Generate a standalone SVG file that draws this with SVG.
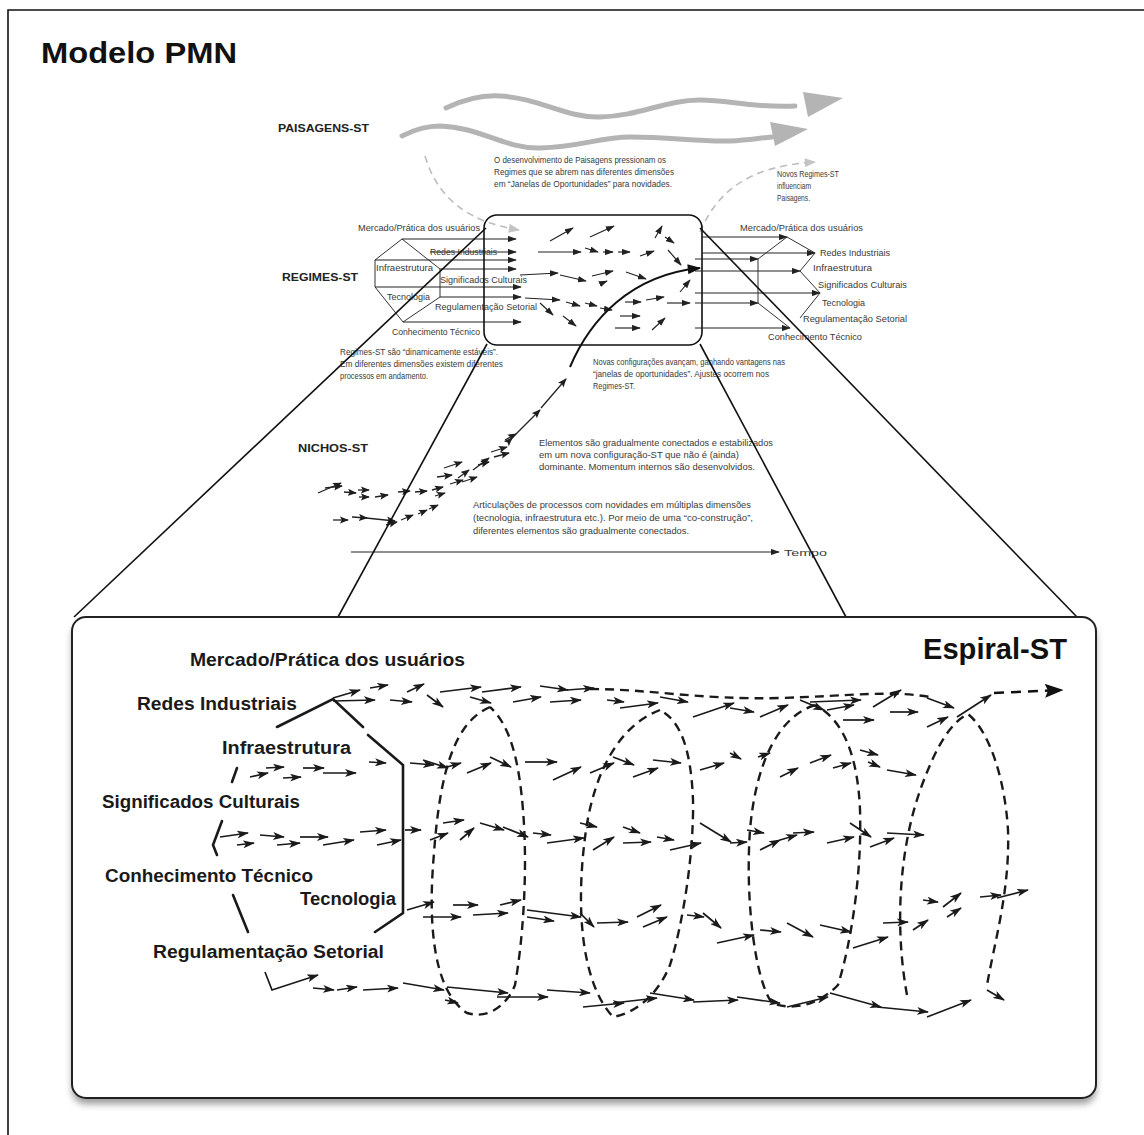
<svg xmlns="http://www.w3.org/2000/svg" width="1144" height="1135" viewBox="0 0 1144 1135">
  <defs>
    <style>
      .frame { stroke: #111; stroke-width: 1.6; fill: none; }
      .title { font-family: "Liberation Sans", Arial, sans-serif; font-weight: bold; fill: #111; }
      .lvl { font-family: "Liberation Sans", Arial, sans-serif; font-weight: bold; font-size: 11.5px; fill: #222; }
      .sm { font-family: "Liberation Sans", Arial, sans-serif; font-size: 9px; fill: #3a3a3a; }
      .nt { font-family: "Liberation Sans", Arial, sans-serif; font-size: 9.5px; fill: #3a3a3a; }
      .lbl { font-family: "Liberation Sans", Arial, sans-serif; font-weight: bold; font-size: 18px; fill: #1a1a1a; }
      .ln { stroke: #333; stroke-width: 1; fill: none; }
      .t { stroke: #222; stroke-width: 1.15; fill: none; marker-end: url(#hs); }
      .n { stroke: #222; stroke-width: 1.3; fill: none; marker-end: url(#hn); }
      .a { stroke: #1a1a1a; stroke-width: 1.7; fill: none; marker-end: url(#h); }
      .d { stroke: #1a1a1a; stroke-width: 2.4; fill: none; stroke-dasharray: 9 6; }
      .hex { stroke: #1a1a1a; stroke-width: 2.6; fill: none; stroke-linecap: round; }
      .proj { stroke: #111; stroke-width: 1.6; fill: none; }
      .wave { stroke: #b4b4b4; stroke-width: 5; fill: none; stroke-linecap: round; }
      .gd { stroke: #bdbdbd; stroke-width: 1.6; fill: none; stroke-dasharray: 7 5; marker-end: url(#hg); }
    </style>
    <marker id="h" viewBox="0 0 12 8" refX="11" refY="4" markerWidth="12" markerHeight="8" markerUnits="userSpaceOnUse" orient="auto">
      <path d="M0,0 L12,4 L0,8 L3,4 z" fill="#1a1a1a"/>
    </marker>
    <marker id="hs" viewBox="0 0 10 7" refX="9" refY="3.5" markerWidth="9" markerHeight="6.5" markerUnits="userSpaceOnUse" orient="auto">
      <path d="M0,0 L10,3.5 L0,7 z" fill="#222"/>
    </marker>
    <marker id="hn" viewBox="0 0 10 8" refX="9" refY="4" markerWidth="9" markerHeight="7.5" markerUnits="userSpaceOnUse" orient="auto">
      <path d="M0,0 L10,4 L0,8 L2,4 z" fill="#1e1e1e"/>
    </marker>
    <marker id="hb" viewBox="0 0 12 9" refX="11" refY="4.5" markerWidth="14" markerHeight="10" markerUnits="userSpaceOnUse" orient="auto">
      <path d="M0,0 L12,4.5 L0,9 z" fill="#111"/>
    </marker>
    <marker id="hL" viewBox="0 0 12 9" refX="11" refY="4.5" markerWidth="19" markerHeight="14" markerUnits="userSpaceOnUse" orient="auto">
      <path d="M0,0 L12,4.5 L0,9 L2,4.5 z" fill="#111"/>
    </marker>
    <marker id="hg" viewBox="0 0 10 8" refX="9" refY="4" markerWidth="12" markerHeight="9" markerUnits="userSpaceOnUse" orient="auto">
      <path d="M0,0 L10,4 L0,8 z" fill="#c4c4c4"/>
    </marker>
    <filter id="shadow" x="-5%" y="-5%" width="110%" height="115%">
      <feGaussianBlur stdDeviation="3.5"/>
    </filter>
  </defs>

  <rect width="1144" height="1135" fill="#fff"/>

  <!-- outer frame -->
  <path class="frame" d="M8 1135 V10 H1144"/>

  <!-- title -->
  <g id="title">
    <text class="title" x="41" y="63" font-size="30" textLength="196" lengthAdjust="spacingAndGlyphs">Modelo PMN</text>
  </g>

  <!-- landscape level -->
  <g id="paisagens">
    <text class="lvl" x="278" y="132" textLength="91" lengthAdjust="spacingAndGlyphs">PAISAGENS-ST</text>
    <path class="wave" d="M446 108 C465 99 482 95 500 96 C540 98 565 118 600 117 C640 116 665 100 700 100 C730 100 750 108 795 106"/>
    <polygon points="843,98 808,117 803,92" fill="#b4b4b4"/>
    <path class="wave" d="M402 136 C418 128 428 126 440 126 C480 127 505 149 540 148 C580 147 600 137 630 137 C670 137 700 142 730 141 C748 140 760 138 772 137"/>
    <polygon points="808,129 775,146 770,122" fill="#b4b4b4"/>
    <path class="gd" d="M425 156 C438 200 470 222 519 230"/>
    <path class="gd" d="M700 232 C718 190 750 166 815 162"/>
    <text class="sm" x="494" y="163" textLength="172" lengthAdjust="spacingAndGlyphs">O desenvolvimento  de Paisagens pressionam os</text>
    <text class="sm" x="494" y="175" textLength="180" lengthAdjust="spacingAndGlyphs">Regimes que se abrem nas diferentes dimensões</text>
    <text class="sm" x="494" y="187" textLength="178" lengthAdjust="spacingAndGlyphs">em “Janelas de Oportunidades”  para novidades.</text>
    <text class="sm" x="777" y="177" textLength="62" lengthAdjust="spacingAndGlyphs">Novos Regimes-ST</text>
    <text class="sm" x="777" y="189" textLength="34" lengthAdjust="spacingAndGlyphs">influenciam</text>
    <text class="sm" x="777" y="201" textLength="33" lengthAdjust="spacingAndGlyphs">Paisagens.</text>
  </g>

  <!-- regime level, incoming dimensions -->
  <g id="regimes-esquerda">
    <text class="lvl" x="282" y="281" textLength="76" lengthAdjust="spacingAndGlyphs">REGIMES-ST</text>
    <path class="ln" d="M402 239 L375 260 L375 287 L403 322 L440 297 L440 269 Z"/>
    <line class="t" x1="402" y1="239" x2="516" y2="239"/>
    <line class="t" x1="430" y1="252" x2="516" y2="252"/>
    <line class="t" x1="375" y1="260" x2="516" y2="260"/>
    <line class="t" x1="440" y1="269" x2="516" y2="269"/>
    <line class="t" x1="375" y1="287" x2="521" y2="287"/>
    <line class="t" x1="440" y1="297" x2="521" y2="297"/>
    <line class="t" x1="403" y1="322" x2="521" y2="322"/>
    <text class="sm" x="358" y="231" textLength="122" lengthAdjust="spacingAndGlyphs">Mercado/Prática dos usuários</text>
    <text class="sm" x="430" y="255" textLength="67" lengthAdjust="spacingAndGlyphs">Redes Industriais</text>
    <text class="sm" x="376" y="271" textLength="57" lengthAdjust="spacingAndGlyphs">Infraestrutura</text>
    <text class="sm" x="440" y="283" textLength="87" lengthAdjust="spacingAndGlyphs">Significados Culturais</text>
    <text class="sm" x="387" y="300" textLength="43" lengthAdjust="spacingAndGlyphs">Tecnologia</text>
    <text class="sm" x="435" y="310" textLength="102" lengthAdjust="spacingAndGlyphs">Regulamentação Setorial</text>
    <text class="sm" x="392" y="335" textLength="88" lengthAdjust="spacingAndGlyphs">Conhecimento Técnico</text>
  </g>

  <!-- window of opportunity -->
  <g id="janela">
    <rect x="484" y="215" width="218" height="130" rx="13" fill="none" stroke="#111" stroke-width="1.6"/>
    <line class="t" x1="550" y1="241" x2="573" y2="228"/>
    <line class="t" x1="590" y1="237" x2="614" y2="226"/>
    <line class="t" x1="655" y1="238" x2="662" y2="226"/>
    <line class="t" x1="665" y1="237" x2="674" y2="243"/>
    <line class="t" x1="538" y1="252" x2="581" y2="252"/>
    <line class="t" x1="585" y1="248" x2="598" y2="252"/>
    <line class="t" x1="603" y1="252" x2="613" y2="252"/>
    <line class="t" x1="618" y1="252" x2="630" y2="252"/>
    <line class="t" x1="640" y1="256" x2="654" y2="251"/>
    <line class="t" x1="668" y1="250" x2="681" y2="265"/>
    <line class="t" x1="520" y1="275" x2="558" y2="273"/>
    <line class="t" x1="560" y1="275" x2="586" y2="281"/>
    <line class="t" x1="592" y1="276" x2="613" y2="271"/>
    <line class="t" x1="600" y1="284" x2="607" y2="281"/>
    <line class="t" x1="626" y1="272" x2="646" y2="279"/>
    <line class="t" x1="525" y1="298" x2="560" y2="300"/>
    <line class="t" x1="566" y1="302" x2="580" y2="306"/>
    <line class="t" x1="585" y1="303" x2="597" y2="306"/>
    <line class="t" x1="600" y1="308" x2="612" y2="310"/>
    <line class="t" x1="625" y1="302" x2="641" y2="302"/>
    <line class="t" x1="646" y1="300" x2="664" y2="297"/>
    <line class="t" x1="540" y1="303" x2="553" y2="315"/>
    <line class="t" x1="563" y1="316" x2="576" y2="326"/>
    <line class="t" x1="620" y1="316" x2="640" y2="316"/>
    <line class="t" x1="615" y1="328" x2="640" y2="328"/>
    <line class="t" x1="652" y1="330" x2="665" y2="318"/>
    <line class="t" x1="667" y1="303" x2="690" y2="303"/>
    <line class="t" x1="680" y1="292" x2="690" y2="280"/>
  </g>

  <!-- regime level, new configuration -->
  <g id="regimes-direita">
    <line class="t" x1="702" y1="237" x2="787" y2="237"/>
    <line class="t" x1="702" y1="253" x2="815" y2="253"/>
    <line class="t" x1="695" y1="259" x2="758" y2="259"/>
    <line class="t" x1="695" y1="271" x2="800" y2="271"/>
    <line class="t" x1="695" y1="293" x2="820" y2="293"/>
    <line class="t" x1="695" y1="303" x2="758" y2="303"/>
    <line class="t" x1="695" y1="328" x2="790" y2="328"/>
    <path class="ln" d="M758 259 L787 237 L815 253 L800 271 L820 293 L800 318 M758 259 V303 L790 328"/>
    <text class="sm" x="740" y="231" textLength="123" lengthAdjust="spacingAndGlyphs">Mercado/Prática dos usuários</text>
    <text class="sm" x="820" y="256" textLength="70" lengthAdjust="spacingAndGlyphs">Redes Industriais</text>
    <text class="sm" x="813" y="271" textLength="59" lengthAdjust="spacingAndGlyphs">Infraestrutura</text>
    <text class="sm" x="818" y="288" textLength="89" lengthAdjust="spacingAndGlyphs">Significados Culturais</text>
    <text class="sm" x="822" y="306" textLength="43" lengthAdjust="spacingAndGlyphs">Tecnologia</text>
    <text class="sm" x="803" y="322" textLength="104" lengthAdjust="spacingAndGlyphs">Regulamentação Setorial</text>
    <text class="sm" x="768" y="340" textLength="94" lengthAdjust="spacingAndGlyphs">Conhecimento Técnico</text>
  </g>

  <!-- notes between levels -->
  <g id="notas-regimes">
    <text class="sm" x="340" y="355" textLength="158" lengthAdjust="spacingAndGlyphs">Regimes-ST são “dinamicamente estáveis”.</text>
    <text class="sm" x="340" y="367" textLength="163" lengthAdjust="spacingAndGlyphs">Em diferentes dimensões  existem diferentes</text>
    <text class="sm" x="340" y="379" textLength="88" lengthAdjust="spacingAndGlyphs">processos em andamento.</text>
    <text class="sm" x="593" y="365" textLength="192" lengthAdjust="spacingAndGlyphs">Novas configurações avançam, ganhando vantagens nas</text>
    <text class="sm" x="593" y="377" textLength="176" lengthAdjust="spacingAndGlyphs">“janelas de oportunidades”. Ajustes ocorrem nos</text>
    <text class="sm" x="593" y="389" textLength="42" lengthAdjust="spacingAndGlyphs">Regimes-ST.</text>
  </g>

  <!-- niche level -->
  <g id="nichos">
    <text class="lvl" x="298" y="452" textLength="70" lengthAdjust="spacingAndGlyphs">NICHOS-ST</text>
    <line class="n" x1="318" y1="493" x2="341" y2="483"/>
    <line class="n" x1="325" y1="488" x2="342" y2="486"/>
    <line class="n" x1="344" y1="492" x2="356" y2="493"/>
    <line class="n" x1="358" y1="490" x2="369" y2="490"/>
    <line class="n" x1="359" y1="497" x2="369" y2="497"/>
    <line class="n" x1="375" y1="497" x2="388" y2="495"/>
    <line class="n" x1="398" y1="492" x2="410" y2="491"/>
    <line class="n" x1="415" y1="492" x2="427" y2="491"/>
    <line class="n" x1="432" y1="490" x2="443" y2="487"/>
    <line class="n" x1="435" y1="496" x2="445" y2="493"/>
    <line class="n" x1="437" y1="477" x2="452" y2="475"/>
    <line class="n" x1="444" y1="468" x2="462" y2="462"/>
    <line class="n" x1="450" y1="484" x2="463" y2="480"/>
    <line class="n" x1="458" y1="478" x2="469" y2="470"/>
    <line class="n" x1="462" y1="482" x2="477" y2="477"/>
    <line class="n" x1="473" y1="470" x2="489" y2="458"/>
    <line class="n" x1="478" y1="465" x2="489" y2="462"/>
    <line class="n" x1="491" y1="452" x2="507" y2="447"/>
    <line class="n" x1="494" y1="457" x2="509" y2="453"/>
    <line class="n" x1="505" y1="440" x2="516" y2="434"/>
    <line class="n" x1="333" y1="520" x2="348" y2="520"/>
    <line class="n" x1="352" y1="517" x2="367" y2="518"/>
    <line class="n" x1="366" y1="518" x2="395" y2="521"/>
    <line class="n" x1="386" y1="525" x2="397" y2="522"/>
    <line class="n" x1="401" y1="520" x2="413" y2="515"/>
    <line class="n" x1="418" y1="514" x2="427" y2="510"/>
    <line class="n" x1="429" y1="509" x2="438" y2="505"/>
    <text class="nt" x="539" y="446" textLength="234" lengthAdjust="spacingAndGlyphs">Elementos são gradualmente conectados e estabilizados</text>
    <text class="nt" x="539" y="458" textLength="200" lengthAdjust="spacingAndGlyphs">em um nova configuração-ST que não é (ainda)</text>
    <text class="nt" x="539" y="470" textLength="216" lengthAdjust="spacingAndGlyphs">dominante. Momentum internos são desenvolvidos.</text>
    <text class="nt" x="473" y="508" textLength="278" lengthAdjust="spacingAndGlyphs">Articulações de processos  com novidades em múltiplas dimensões</text>
    <text class="nt" x="473" y="521" textLength="280" lengthAdjust="spacingAndGlyphs">(tecnologia, infraestrutura etc.). Por meio de uma “co-construção”,</text>
    <text class="nt" x="473" y="534" textLength="216" lengthAdjust="spacingAndGlyphs">diferentes elementos são gradualmente conectados.</text>
    <line class="t" x1="351" y1="552" x2="779" y2="552" stroke="#555"/>
    <text class="nt" x="784" y="556" font-size="12.5" textLength="43" lengthAdjust="spacingAndGlyphs">Tempo</text>
  </g>

  <!-- path of the new configuration from niche to regime -->
  <g id="trajetoria">
    <line class="n" x1="512" y1="438" x2="540" y2="410" stroke-width="1.6" marker-start="url(#hn)"/>
    <line class="n" x1="541" y1="408" x2="566" y2="379" stroke-width="1.6"/>
    <path d="M570 367 C590 320 630 275 700 268" fill="none" stroke="#111" stroke-width="2" marker-end="url(#hb)"/>
  </g>

  <!-- zoom lines from the window to the spiral panel -->
  <g id="projecao">
    <line class="proj" x1="486" y1="228" x2="74" y2="617"/>
    <line class="proj" x1="700" y1="228" x2="1077" y2="617"/>
    <line class="proj" x1="487" y1="344" x2="338" y2="617"/>
    <line class="proj" x1="700" y1="344" x2="846" y2="617"/>
  </g>

  <!-- spiral panel -->
  <g id="espiral">
    <rect x="72" y="623" width="1024" height="481" rx="14" fill="#7a7a7a" opacity="0.75" filter="url(#shadow)"/>
    <rect x="72" y="617" width="1024" height="481" rx="14" fill="#fff" stroke="#222" stroke-width="2"/>
    <text class="title" x="923" y="659" font-size="29" textLength="144" lengthAdjust="spacingAndGlyphs">Espiral-ST</text>

    <text class="lbl" x="190" y="666" textLength="275" lengthAdjust="spacingAndGlyphs">Mercado/Prática dos usuários</text>
    <text class="lbl" x="137" y="710" textLength="160" lengthAdjust="spacingAndGlyphs">Redes Industriais</text>
    <text class="lbl" x="222" y="754" textLength="129" lengthAdjust="spacingAndGlyphs">Infraestrutura</text>
    <text class="lbl" x="102" y="808" textLength="198" lengthAdjust="spacingAndGlyphs">Significados Culturais</text>
    <text class="lbl" x="105" y="882" textLength="208" lengthAdjust="spacingAndGlyphs">Conhecimento Técnico</text>
    <text class="lbl" x="300" y="905" textLength="96" lengthAdjust="spacingAndGlyphs">Tecnologia</text>
    <text class="lbl" x="153" y="958" textLength="231" lengthAdjust="spacingAndGlyphs">Regulamentação Setorial</text>

    <!-- dimension outline -->
    <path class="hex" d="M277 727 L333 699 L363 727 M368 735 L403 765 V913 L375 932"/>
    <path class="hex" d="M232 782 L237 768"/>
    <path class="hex" d="M222 821 L213 845 L217 855"/>
    <path class="hex" d="M233 895 L248 932"/>
    <path class="a" d="M265 972 L272 990 L318 975" stroke-width="2.2"/>

    <!-- spiral turns -->
    <path class="d" d="M490 707 C455 722 440 770 434 853 C428 920 432 990 467 1013 C490 1020 508 1003 515 985 C523 940 528 870 523 810 C519 760 510 725 490 707"/>
    <path class="d" d="M660 710 C620 725 595 770 586 830 C576 900 579 980 613 1017 C640 1012 660 990 670 965 C684 920 694 850 693 800 C691 750 681 721 660 710"/>
    <path class="d" d="M815 705 C780 716 756 760 750 830 C745 900 755 980 772 1003 C798 1013 824 1000 838 985 C852 940 862 870 860 810 C858 760 845 720 815 705"/>
    <path class="d" d="M907 995 C895 930 898 850 922 785 C938 742 952 722 968 714 C990 732 1005 780 1008 830 C1010 890 995 940 987 985"/>
    <path class="d" d="M590 689 C650 689 700 700 780 698 C850 696 890 690 930 697"/>
    <line x1="994" y1="693" x2="1062" y2="690" stroke="#111" stroke-width="2.4" stroke-dasharray="10 7" marker-end="url(#hL)"/>

    <!-- market / industrial networks flow -->
    <line class="a" x1="333" y1="698" x2="360" y2="690"/>
    <line class="a" x1="333" y1="701" x2="375" y2="700"/>
    <line class="a" x1="370" y1="688" x2="388" y2="685"/>
    <line class="a" x1="390" y1="700" x2="412" y2="702"/>
    <line class="a" x1="407" y1="692" x2="424" y2="684"/>
    <line class="a" x1="427" y1="695" x2="443" y2="707"/>
    <line class="a" x1="440" y1="692" x2="481" y2="687"/>
    <line class="a" x1="470" y1="697" x2="491" y2="703"/>
    <line class="a" x1="482" y1="692" x2="521" y2="687"/>
    <line class="a" x1="513" y1="702" x2="541" y2="697"/>
    <line class="a" x1="540" y1="686" x2="568" y2="690"/>
    <line class="a" x1="550" y1="702" x2="581" y2="700"/>
    <line class="a" x1="567" y1="690" x2="594" y2="688"/>
    <line class="a" x1="607" y1="700" x2="624" y2="702"/>
    <line class="a" x1="620" y1="708" x2="658" y2="703"/>
    <line class="a" x1="660" y1="697" x2="688" y2="702"/>
    <line class="a" x1="693" y1="717" x2="734" y2="703"/>
    <line class="a" x1="730" y1="708" x2="754" y2="712"/>
    <line class="a" x1="760" y1="717" x2="788" y2="705"/>
    <line class="a" x1="800" y1="700" x2="824" y2="710"/>
    <line class="a" x1="810" y1="702" x2="861" y2="700"/>
    <line class="a" x1="827" y1="710" x2="854" y2="705"/>
    <line class="a" x1="843" y1="720" x2="874" y2="720"/>
    <line class="a" x1="873" y1="707" x2="901" y2="690"/>
    <line class="a" x1="890" y1="712" x2="918" y2="712"/>
    <line class="a" x1="927" y1="698" x2="954" y2="708"/>
    <line class="a" x1="927" y1="727" x2="948" y2="717"/>
    <line class="a" x1="957" y1="717" x2="991" y2="695"/>

    <!-- infrastructure flow -->
    <line class="a" x1="250" y1="777" x2="268" y2="773"/>
    <line class="a" x1="266" y1="768" x2="284" y2="767"/>
    <line class="a" x1="283" y1="778" x2="301" y2="777"/>
    <line class="a" x1="303" y1="768" x2="324" y2="768"/>
    <line class="a" x1="323" y1="773" x2="356" y2="773"/>
    <line class="a" x1="369" y1="762" x2="386" y2="763"/>
    <line class="a" x1="410" y1="763" x2="434" y2="765"/>
    <line class="a" x1="423" y1="760" x2="448" y2="768"/>
    <line class="a" x1="447" y1="767" x2="461" y2="763"/>
    <line class="a" x1="467" y1="773" x2="491" y2="763"/>
    <line class="a" x1="490" y1="757" x2="511" y2="767"/>
    <line class="a" x1="525" y1="762" x2="557" y2="762"/>
    <line class="a" x1="553" y1="780" x2="581" y2="767"/>
    <line class="a" x1="590" y1="773" x2="614" y2="763"/>
    <line class="a" x1="613" y1="757" x2="634" y2="765"/>
    <line class="a" x1="633" y1="777" x2="658" y2="768"/>
    <line class="a" x1="653" y1="760" x2="681" y2="763"/>
    <line class="a" x1="700" y1="770" x2="724" y2="763"/>
    <line class="a" x1="730" y1="753" x2="741" y2="759"/>
    <line class="a" x1="758" y1="757" x2="770" y2="753"/>
    <line class="a" x1="780" y1="777" x2="798" y2="768"/>
    <line class="a" x1="810" y1="763" x2="831" y2="755"/>
    <line class="a" x1="833" y1="768" x2="851" y2="763"/>
    <line class="a" x1="860" y1="750" x2="878" y2="755"/>
    <line class="a" x1="868" y1="762" x2="880" y2="767"/>
    <line class="a" x1="887" y1="770" x2="916" y2="775"/>

    <!-- cultural meanings flow -->
    <line class="a" x1="220" y1="837" x2="248" y2="833"/>
    <line class="a" x1="237" y1="845" x2="254" y2="843"/>
    <line class="a" x1="260" y1="835" x2="284" y2="837"/>
    <line class="a" x1="277" y1="845" x2="300" y2="843"/>
    <line class="a" x1="300" y1="837" x2="328" y2="837"/>
    <line class="a" x1="323" y1="845" x2="354" y2="840"/>
    <line class="a" x1="360" y1="832" x2="386" y2="830"/>
    <line class="a" x1="377" y1="845" x2="401" y2="840"/>
    <line class="a" x1="405" y1="830" x2="421" y2="830"/>
    <line class="a" x1="430" y1="840" x2="448" y2="833"/>
    <line class="a" x1="443" y1="823" x2="464" y2="820"/>
    <line class="a" x1="460" y1="840" x2="474" y2="828"/>
    <line class="a" x1="480" y1="823" x2="504" y2="830"/>
    <line class="a" x1="503" y1="827" x2="528" y2="837"/>
    <line class="a" x1="533" y1="833" x2="551" y2="835"/>
    <line class="a" x1="547" y1="843" x2="584" y2="838"/>
    <line class="a" x1="580" y1="823" x2="597" y2="827"/>
    <line class="a" x1="593" y1="850" x2="614" y2="837"/>
    <line class="a" x1="623" y1="827" x2="640" y2="833"/>
    <line class="a" x1="623" y1="843" x2="651" y2="842"/>
    <line class="a" x1="657" y1="837" x2="674" y2="840"/>
    <line class="a" x1="670" y1="850" x2="701" y2="843"/>
    <line class="a" x1="700" y1="823" x2="731" y2="842"/>
    <line class="a" x1="730" y1="843" x2="747" y2="842"/>
    <line class="a" x1="747" y1="830" x2="764" y2="833"/>
    <line class="a" x1="760" y1="850" x2="780" y2="840"/>
    <line class="a" x1="780" y1="840" x2="797" y2="835"/>
    <line class="a" x1="793" y1="833" x2="814" y2="832"/>
    <line class="a" x1="827" y1="843" x2="854" y2="837"/>
    <line class="a" x1="850" y1="823" x2="871" y2="837"/>
    <line class="a" x1="870" y1="847" x2="894" y2="838"/>
    <line class="a" x1="887" y1="833" x2="924" y2="835"/>

    <!-- technology flow -->
    <line class="a" x1="407" y1="910" x2="434" y2="902"/>
    <line class="a" x1="423" y1="917" x2="461" y2="917"/>
    <line class="a" x1="453" y1="905" x2="478" y2="905"/>
    <line class="a" x1="473" y1="915" x2="508" y2="913"/>
    <line class="a" x1="500" y1="905" x2="521" y2="900"/>
    <line class="a" x1="527" y1="910" x2="581" y2="917"/>
    <line class="a" x1="527" y1="917" x2="554" y2="921"/>
    <line class="a" x1="580" y1="913" x2="594" y2="927"/>
    <line class="a" x1="597" y1="923" x2="628" y2="922"/>
    <line class="a" x1="637" y1="917" x2="661" y2="905"/>
    <line class="a" x1="643" y1="927" x2="667" y2="917"/>
    <line class="a" x1="687" y1="915" x2="704" y2="917"/>
    <line class="a" x1="703" y1="913" x2="721" y2="928"/>
    <line class="a" x1="717" y1="943" x2="754" y2="935"/>
    <line class="a" x1="760" y1="930" x2="781" y2="932"/>
    <line class="a" x1="787" y1="923" x2="813" y2="937"/>
    <line class="a" x1="820" y1="925" x2="851" y2="932"/>
    <line class="a" x1="853" y1="948" x2="888" y2="937"/>
    <line class="a" x1="883" y1="923" x2="908" y2="922"/>
    <line class="a" x1="913" y1="930" x2="928" y2="920"/>
    <line class="a" x1="923" y1="900" x2="938" y2="902"/>
    <line class="a" x1="943" y1="907" x2="961" y2="893"/>
    <line class="a" x1="947" y1="917" x2="961" y2="908"/>
    <line class="a" x1="980" y1="897" x2="1001" y2="895"/>
    <line class="a" x1="997" y1="898" x2="1028" y2="890"/>

    <!-- sector regulation flow -->
    <line class="a" x1="313" y1="988" x2="334" y2="990"/>
    <line class="a" x1="337" y1="990" x2="357" y2="987"/>
    <line class="a" x1="363" y1="990" x2="398" y2="988"/>
    <line class="a" x1="403" y1="983" x2="444" y2="990"/>
    <line class="a" x1="447" y1="987" x2="508" y2="993"/>
    <line class="a" x1="445" y1="1000" x2="458" y2="1003"/>
    <line class="a" x1="497" y1="997" x2="548" y2="997"/>
    <line class="a" x1="547" y1="990" x2="590" y2="993"/>
    <line class="a" x1="583" y1="1007" x2="624" y2="1003"/>
    <line class="a" x1="613" y1="1003" x2="657" y2="998"/>
    <line class="a" x1="650" y1="993" x2="694" y2="1000"/>
    <line class="a" x1="693" y1="1002" x2="738" y2="1000"/>
    <line class="a" x1="737" y1="997" x2="780" y2="1003"/>
    <line class="a" x1="787" y1="1007" x2="828" y2="997"/>
    <line class="a" x1="830" y1="993" x2="881" y2="1007"/>
    <line class="a" x1="877" y1="1007" x2="928" y2="1012"/>
    <line class="a" x1="927" y1="1017" x2="971" y2="1000"/>
    <line class="a" x1="987" y1="990" x2="1004" y2="1000"/>
  </g>
</svg>
